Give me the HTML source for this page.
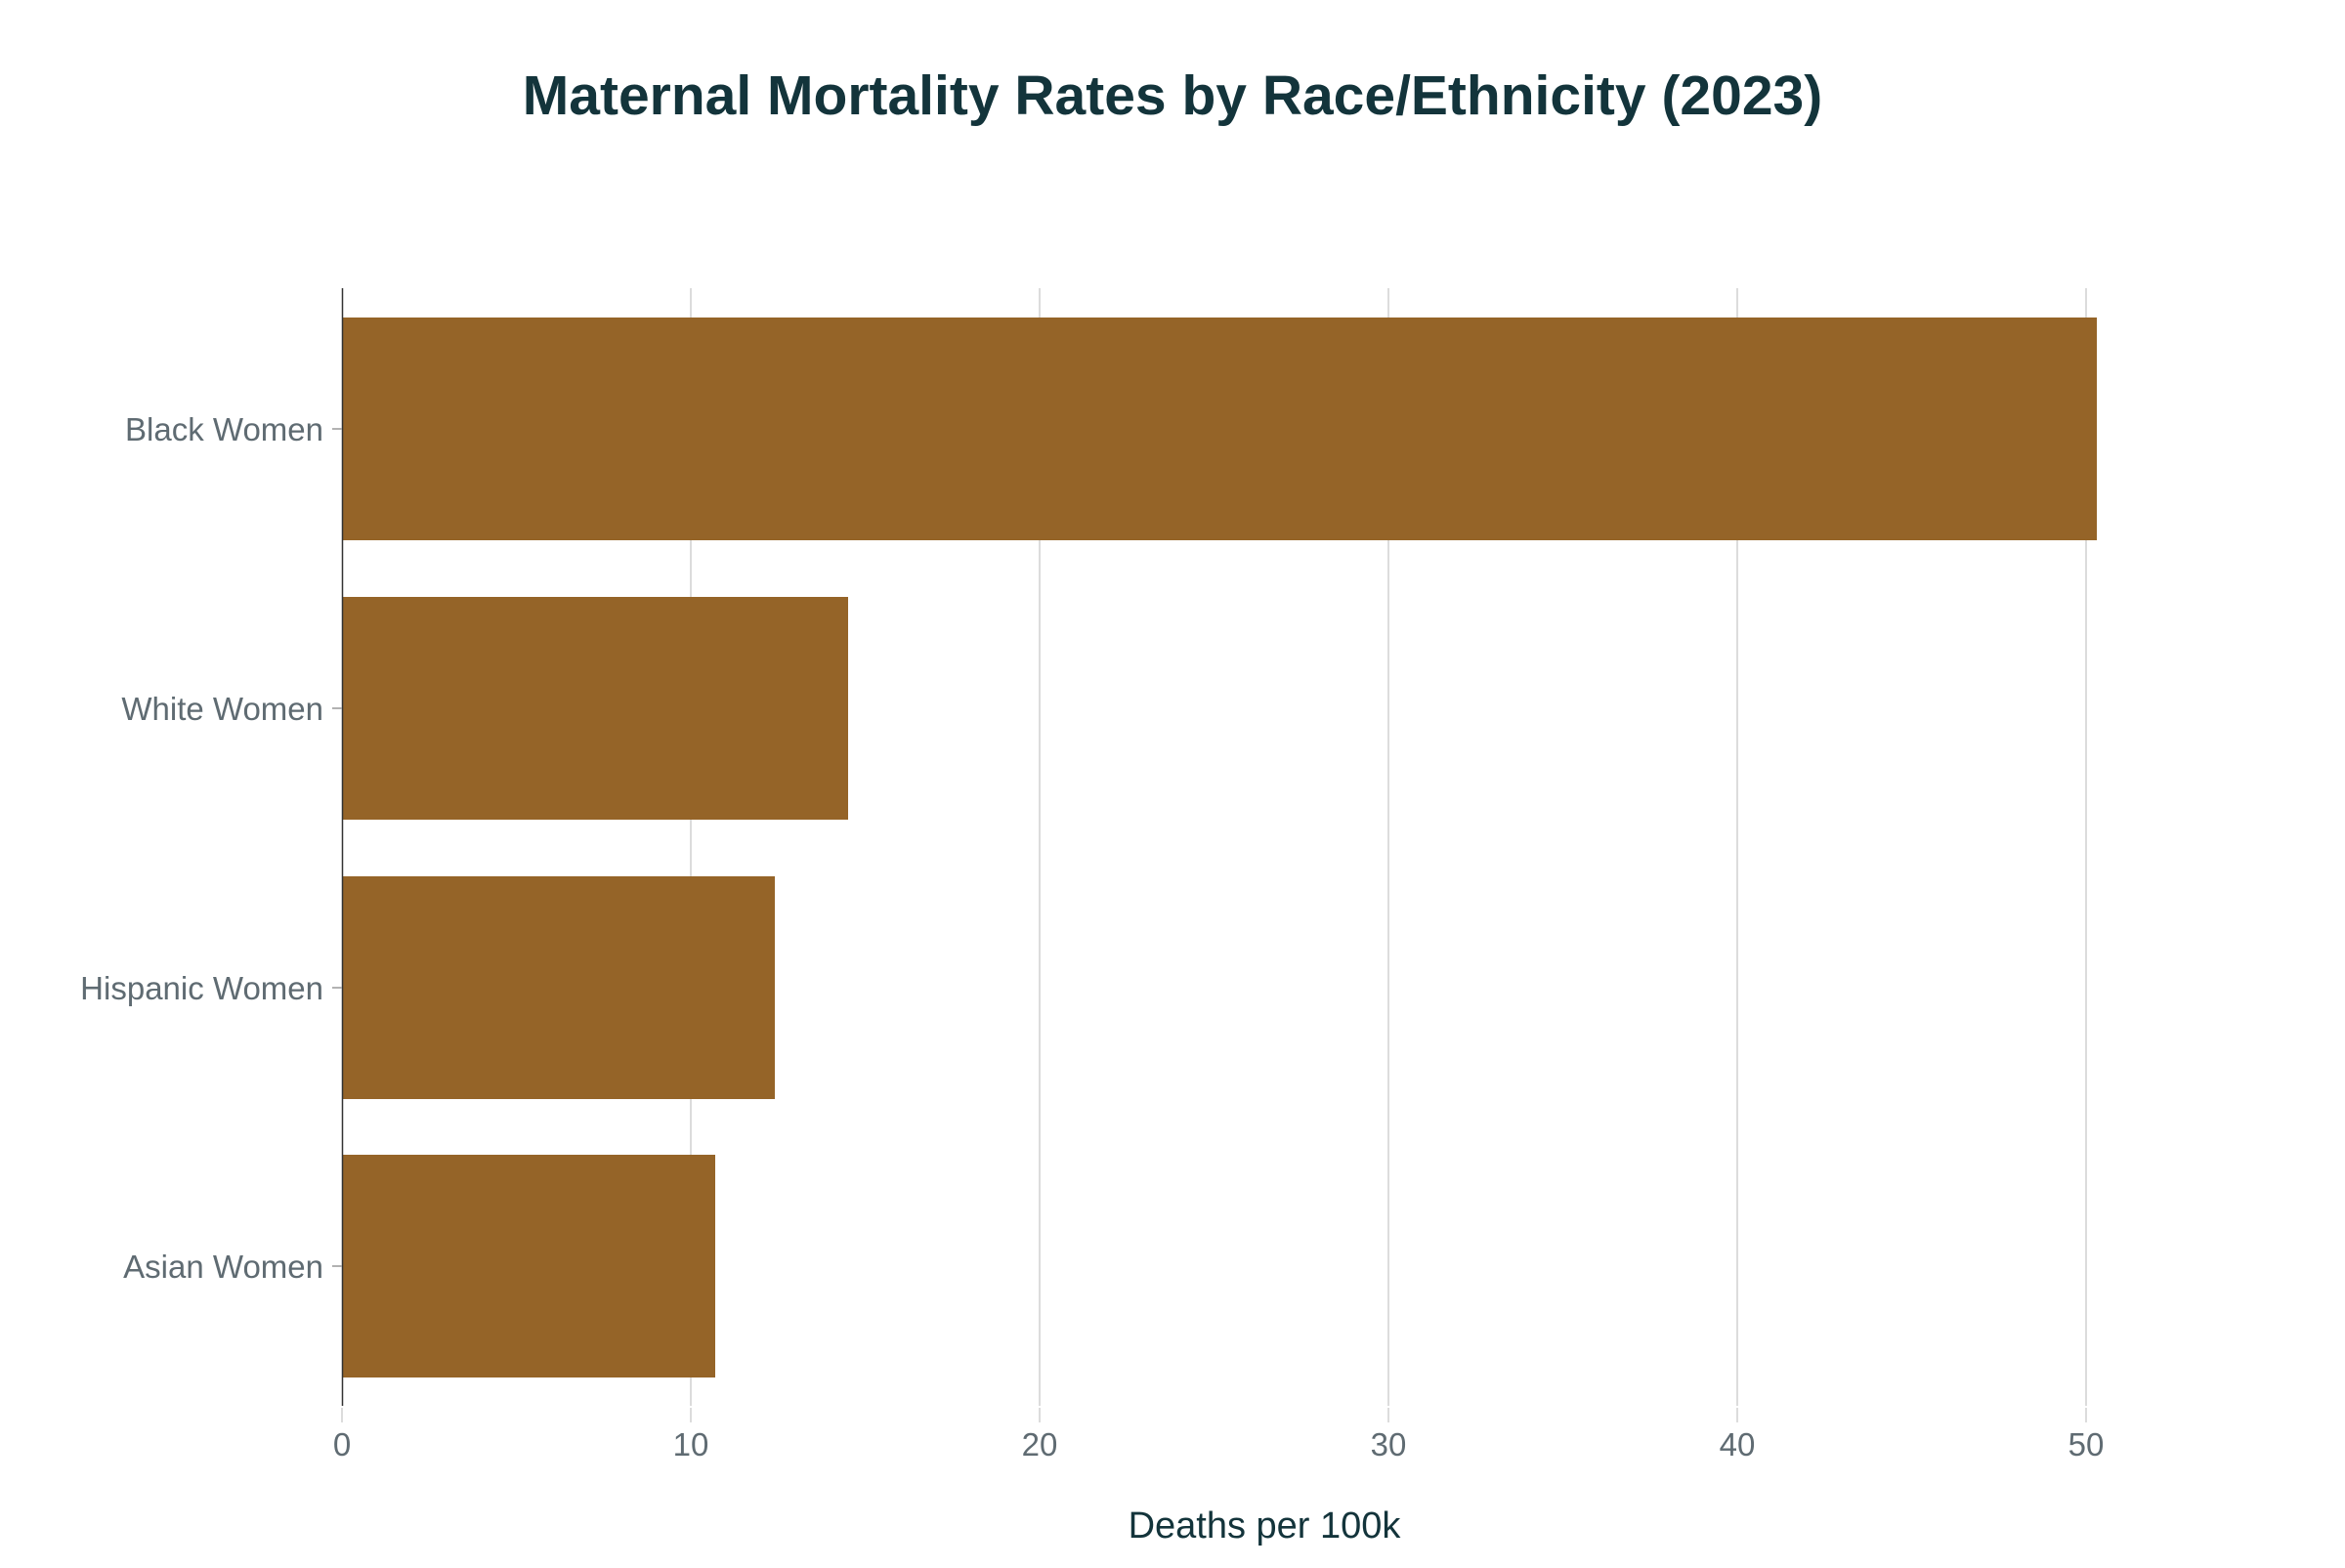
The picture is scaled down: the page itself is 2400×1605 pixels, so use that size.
<!DOCTYPE html>
<html><head><meta charset="utf-8"><style>
html,body{margin:0;padding:0;background:#fff;}
</style></head><body>
<svg width="2400" height="1600" xmlns="http://www.w3.org/2000/svg" font-family="Liberation Sans, sans-serif">
<rect width="2400" height="1600" fill="#fff"/>
<text x="1200" y="117" text-anchor="middle" font-size="57" font-weight="bold" fill="#13343b">Maternal Mortality Rates by Race/Ethnicity (2023)</text>
<g stroke="#dcdcdc" stroke-width="2">
<line x1="707" y1="295" x2="707" y2="1439"/>
<line x1="1064" y1="295" x2="1064" y2="1439"/>
<line x1="1421" y1="295" x2="1421" y2="1439"/>
<line x1="1778" y1="295" x2="1778" y2="1439"/>
<line x1="2135" y1="295" x2="2135" y2="1439"/>
<line x1="350" y1="1441" x2="350" y2="1456"/>
<line x1="707" y1="1441" x2="707" y2="1456"/>
<line x1="1064" y1="1441" x2="1064" y2="1456"/>
<line x1="1421" y1="1441" x2="1421" y2="1456"/>
<line x1="1778" y1="1441" x2="1778" y2="1456"/>
<line x1="2135" y1="1441" x2="2135" y2="1456"/>
</g>
<g fill="#956428">
<rect x="350" y="325" width="1796" height="228"/>
<rect x="350" y="611" width="518" height="228"/>
<rect x="350" y="897" width="443" height="228"/>
<rect x="350" y="1182" width="382" height="228"/>
</g>
<line x1="350.5" y1="295" x2="350.5" y2="1439" stroke="#333" stroke-width="1.5"/>
<g stroke="#999" stroke-width="1.5">
<line x1="340" y1="439" x2="350" y2="439"/>
<line x1="340" y1="725" x2="350" y2="725"/>
<line x1="340" y1="1011" x2="350" y2="1011"/>
<line x1="340" y1="1296" x2="350" y2="1296"/>
</g>
<g font-size="33" fill="#5f6b72" text-anchor="end">
<text x="331" y="451">Black Women</text>
<text x="331" y="737">White Women</text>
<text x="331" y="1023">Hispanic Women</text>
<text x="331" y="1308">Asian Women</text>
</g>
<g font-size="33" fill="#5f6b72" text-anchor="middle">
<text x="350" y="1490">0</text>
<text x="707" y="1490">10</text>
<text x="1064" y="1490">20</text>
<text x="1421" y="1490">30</text>
<text x="1778" y="1490">40</text>
<text x="2135" y="1490">50</text>
</g>
<text x="1294" y="1574" text-anchor="middle" font-size="38" fill="#13343b">Deaths per 100k</text>
</svg>
</body></html>
